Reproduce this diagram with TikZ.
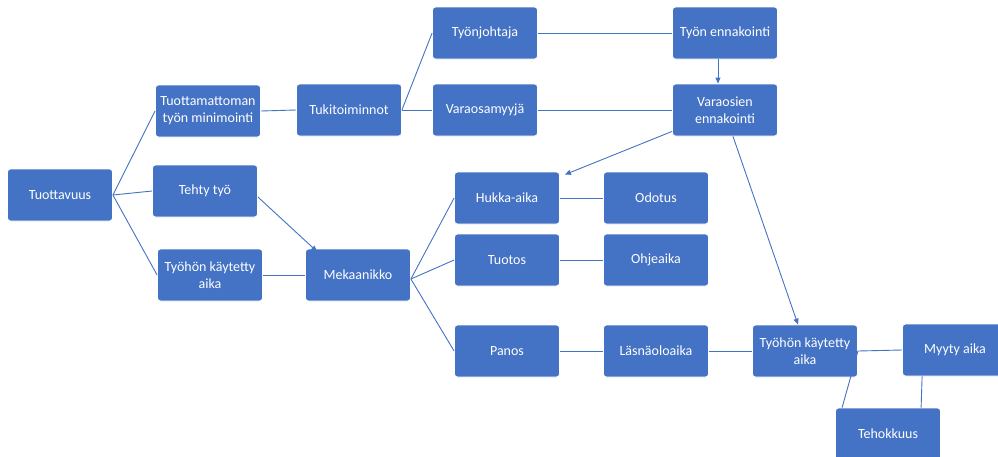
\documentclass[tikz,border=0pt]{standalone}
\usepackage{fontspec}
\setmainfont{Carlito}
\usetikzlibrary{arrows.meta}
\definecolor{officeblue}{RGB}{68,114,196}

\begin{document}
\begin{tikzpicture}[x=1pt, y=-1pt,
    box/.style={fill=officeblue, draw=white, line width=0.8pt, rounded corners=3pt,
        minimum width=105pt, minimum height=52pt, inner sep=2pt, align=center,
        text=white, font=\fontsize{14}{17}\selectfont},
    link/.style={officeblue, line width=0.9pt},
    arrow/.style={link, -{Triangle[length=6pt, width=5pt]}}]

    % Picture frame (the page is cut at the right and bottom edge)
    \useasboundingbox (0,0) rectangle (998,456);

    % --- 1. Left part of the tree ---
    \node[box] (tuott)  at (60,195)  {Tuottavuus};
    \node[box] (minim)  at (208,111) {Tuottamattoman\\työn minimointi};
    \node[box] (tehty)  at (205,191) {Tehty työ};
    \node[box] (aikaA)  at (210,275) {Työhön käytetty\\aika};
    \node[box] (tuki)   at (349,110) {Tukitoiminnot};
    \node[box] (meka)   at (358,275) {Mekaanikko};

    % --- 2. Support functions ---
    \node[box] (johtaja) at (485,33)  {Työnjohtaja};
    \node[box] (myyja)   at (485,110) {Varaosamyyjä};
    \node[box] (tennak)  at (725,33)  {Työn ennakointi};
    \node[box] (vennak)  at (725,110) {Varaosien\\ennakointi};

    % --- 3. Mechanic's time ---
    \node[box] (hukka)  at (507,198) {Hukka-aika};
    \node[box] (odotus) at (656,198) {Odotus};
    \node[box] (tuotos) at (507,260) {Tuotos};
    \node[box] (ohje)   at (656,260) {Ohjeaika};
    \node[box] (panos)  at (507,351) {Panos};
    \node[box] (lasna)  at (656,351) {Läsnäoloaika};
    \node[box] (aikaB)  at (805,351) {Työhön käytetty\\aika};
    \node[box] (myyty)  at (955,350) {Myyty aika};
    \node[box] (teho)   at (888,434) {Tehokkuus};

    % --- 4. Plain links ---
    \draw[link] (tuott.east) -- (minim.west);
    \draw[link] (tuott.east) -- (tehty.west);
    \draw[link] (tuott.east) -- (aikaA.west);
    \draw[link] (minim.east) -- (tuki.west);
    \draw[link] (aikaA.east) -- (meka.west);
    \draw[link] (tuki.east) -- (johtaja.west);
    \draw[link] (tuki.east) -- (myyja.west);
    \draw[link] (johtaja.east) -- (tennak.west);
    \draw[link] (myyja.east) -- (vennak.west);
    \draw[link] ([yshift=-4pt]meka.east) -- (hukka.west);
    \draw[link] ([yshift=-4pt]meka.east) -- (tuotos.west);
    \draw[link] ([yshift=-4pt]meka.east) -- (panos.west);
    \draw[link] (hukka.east) -- (odotus.west);
    \draw[link] (tuotos.east) -- (ohje.west);
    \draw[link] (panos.east) -- (lasna.west);
    \draw[link] (lasna.east) -- (aikaB.west);
    \draw[link] (aikaB.east) -- (myyty.west);
    \draw[link] (aikaB.east) -- ([xshift=7pt]teho.north west);
    \draw[link] ([xshift=20pt]myyty.south west) -- ([xshift=86pt]teho.north west);

    % --- 5. Arrows ---
    \draw[arrow] ([yshift=-6pt]tehty.east) -- ([xshift=12pt, yshift=-3pt]meka.north west);
    \draw[arrow] ([xshift=-7pt]tennak.south) -- ([xshift=-7pt]vennak.north);
    \draw[arrow] ([yshift=5pt]vennak.south west) -- ([xshift=5pt, yshift=-3pt]hukka.north east);
    \draw[arrow] ([xshift=8pt]vennak.south) -- ([xshift=-7pt]aikaB.north);

\end{tikzpicture}
\end{document}
